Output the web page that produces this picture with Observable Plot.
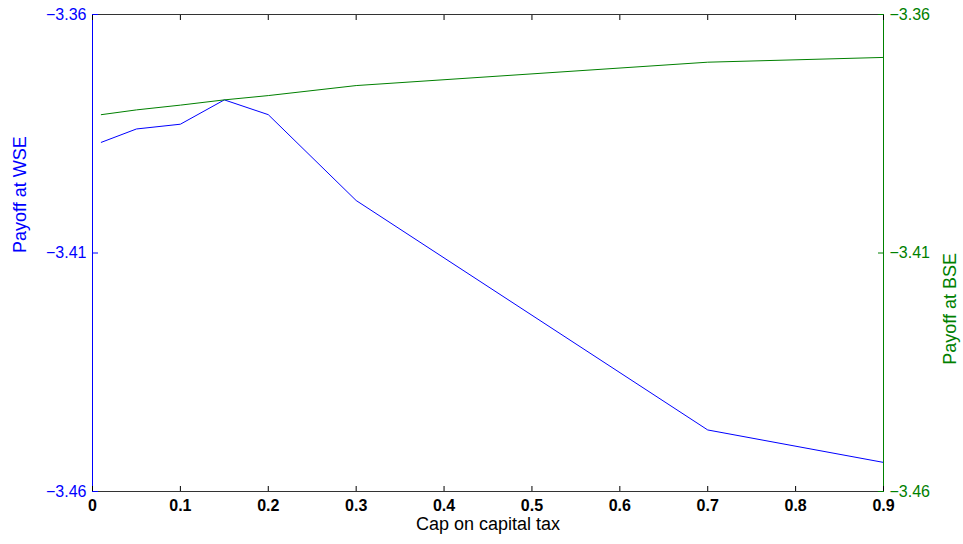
<!DOCTYPE html>
<html>
<head>
<meta charset="utf-8">
<script src="https://cdn.jsdelivr.net/npm/d3@7"></script>
<script src="https://cdn.jsdelivr.net/npm/@observablehq/plot@0.6"></script>
<style>
  html, body { margin: 0; padding: 0; background: #fff; }
  #chart svg { display: block; font-family: "Liberation Sans", Arial, sans-serif; }
</style>
</head>
<body>
<div id="chart"></div>
<script>
const capValues = [0.01, 0.05, 0.1, 0.15, 0.2, 0.3, 0.7, 0.9];
const payoffWSE = [-3.3868, -3.3840, -3.3830, -3.3779, -3.3810, -3.3990, -3.4471, -3.4539];
const payoffBSE = [-3.3810, -3.3800, -3.3790, -3.3779, -3.3770, -3.3749, -3.3700, -3.3690];
const xTicks = [0, 0.1, 0.2, 0.3, 0.4, 0.5, 0.6, 0.7, 0.8, 0.9];
const yTicks = [-3.46, -3.41, -3.36];
const xLabel = "Cap on capital tax";
const leftLabel = "Payoff at WSE";
const rightLabel = "Payoff at BSE";

const blue = "#0000ff";
const green = "#008000";
const wseData = capValues.map((x, i) => ({x, y: payoffWSE[i]}));
const bseData = capValues.map((x, i) => ({x, y: payoffBSE[i]}));
const fmtY = d => d.toFixed(2).replace("-", "\u2212");

const chart = Plot.plot({
  width: 963,
  height: 544,
  marginLeft: 92,
  marginRight: 80,
  marginTop: 14,
  marginBottom: 53,
  style: {fontFamily: "'Liberation Sans', Arial, sans-serif", background: "#fff"},
  x: {domain: [0, 0.9]},
  y: {domain: [-3.46, -3.36]},
  marks: [
    Plot.frame({stroke: "#333"}),
    Plot.ruleX([0], {stroke: blue}),
    Plot.line(wseData, {x: "x", y: "y", stroke: blue, strokeWidth: 1}),
    Plot.line(bseData, {x: "x", y: "y", stroke: green, strokeWidth: 1}),
    Plot.ruleX([0.9], {stroke: green}),
    Plot.axisX({anchor: "bottom", ticks: xTicks, tickSize: -5, tickPadding: 13, stroke: "black", fill: "black",
      fontSize: 16, fontWeight: "bold", tickFormat: d => String(d), label: null}),
    Plot.axisX({anchor: "top", ticks: xTicks, tickSize: -5, stroke: "black", text: null, label: null}),
    Plot.axisY({anchor: "left", ticks: yTicks, tickSize: -6, tickPadding: 12, stroke: blue, fill: blue,
      fontSize: 16, tickFormat: fmtY, label: null}),
    Plot.axisY({anchor: "right", ticks: yTicks, tickSize: -6, tickPadding: 12, stroke: green, fill: green,
      fontSize: 16, tickFormat: fmtY, label: null}),
    Plot.text([xLabel], {frameAnchor: "bottom", lineAnchor: "middle", dy: 33, text: d => d, fontSize: 18, fill: "black"}),
    Plot.text([leftLabel], {frameAnchor: "left", dx: -72, rotate: -90, text: d => d, fontSize: 18, fill: blue}),
    Plot.text([rightLabel], {frameAnchor: "right", dx: 67, rotate: -90, text: d => d, fontSize: 18, fill: green})
  ]
});
document.getElementById("chart").appendChild(chart);
</script>
</body>
</html>
